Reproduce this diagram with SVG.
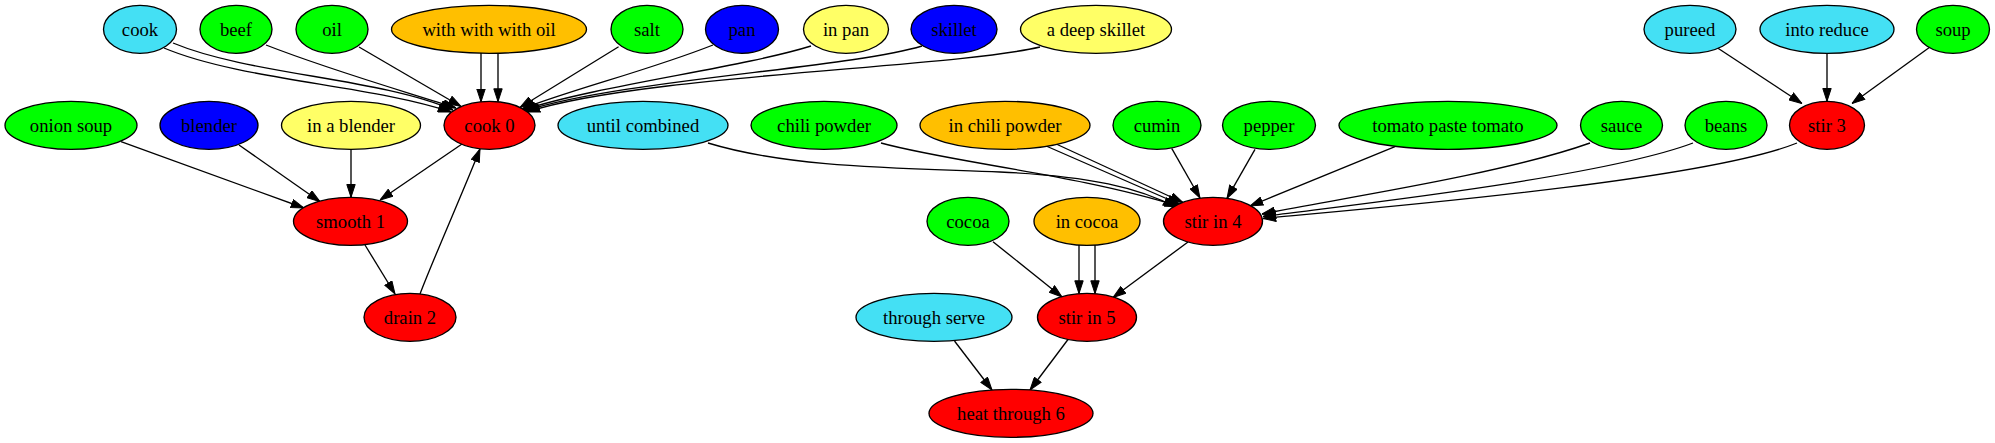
<svg xmlns="http://www.w3.org/2000/svg" width="1995" height="443" viewBox="0 0 1995 443">
<style>
.n ellipse{stroke:#000;stroke-width:1.33}
.n text{font-family:"Liberation Serif","Times New Roman",serif;font-size:18.67px;text-anchor:middle;fill:#000}
.cy{fill:#44e0f4}.gr{fill:#00ff00}.or{fill:#ffbf00}.ye{fill:#ffff66}.bl{fill:#0000ff}.rd{fill:#ff0000}
#edges path{fill:none;stroke:#000;stroke-width:1.33;marker-end:url(#ah)}
</style>
<defs>
<marker id="ah" markerUnits="userSpaceOnUse" viewBox="0 0 13.3 9.4" refX="13.3" refY="4.7" markerWidth="13.3" markerHeight="9.4" orient="auto">
<path d="M0.5,0.5 L13.3,4.7 L0.5,8.9 z" fill="#000" stroke="#000" stroke-width="1"/>
</marker>
</defs>
<rect width="1995" height="443" fill="#fff"/>
<g id="edges">
<path d="M173,43 C250,75 380,78 453,110"/>
<path d="M164,48 C240,80 370,85 451,112"/>
<path d="M266,45 C330,70 400,90 456,108"/>
<path d="M359,47 L461,106.5"/>
<path d="M481,53 L481,101.8"/>
<path d="M498,53 L498,101.6"/>
<path d="M618.6,46.7 L520,107.5"/>
<path d="M713,45 C650,70 570,90 522,109"/>
<path d="M811,46 C740,68 600,85 523,110"/>
<path d="M922,46 C850,68 620,80 525,111"/>
<path d="M1040,47 C950,68 640,75 527,112"/>
<path d="M462,144 L380,200"/>
<path d="M121,141.7 L304,208"/>
<path d="M239,145 L320,201.7"/>
<path d="M351,149.3 L351,197.3"/>
<path d="M365,245 L395,294"/>
<path d="M420,294 C432,262 466,185 480,149"/>
<path d="M1718,48.3 L1802,103.5"/>
<path d="M1827,53.3 L1827,101.3"/>
<path d="M1930,47 L1852,103.5"/>
<path d="M1171.7,148.3 L1200,198"/>
<path d="M1255,149.3 L1227,198.3"/>
<path d="M1395,146.7 L1250,206"/>
<path d="M1590,143 C1500,175 1330,200 1262,214"/>
<path d="M1693,143 C1600,178 1340,206 1263,216.5"/>
<path d="M1797,143 C1700,182 1350,210 1263,218.5"/>
<path d="M708,143 C790,168 900,168 1000,172 C1090,176 1140,188 1176,207.5"/>
<path d="M881,143 C950,162 1080,175 1178,206"/>
<path d="M1054,143 L1183,202.5"/>
<path d="M1045,145.5 L1180,204.5"/>
<path d="M1188,242 L1113,297.5"/>
<path d="M993,241.7 L1062,297"/>
<path d="M1079,245 L1079,293.6"/>
<path d="M1095,245 L1095,293.6"/>
<path d="M954.5,341 L992,390"/>
<path d="M1068,339.5 L1030,390"/>
</g>
<g id="n_cook" class="n"><ellipse class="cy" cx="140" cy="29.3" rx="36.5" ry="24"/><text x="140" y="35.5">cook</text></g>
<g id="n_beef" class="n"><ellipse class="gr" cx="236" cy="29.3" rx="36" ry="24"/><text x="236" y="35.5">beef</text></g>
<g id="n_oil" class="n"><ellipse class="gr" cx="332" cy="29.3" rx="36" ry="24"/><text x="332" y="35.5">oil</text></g>
<g id="n_withoil" class="n"><ellipse class="or" cx="489" cy="29.3" rx="97.5" ry="24"/><text x="489" y="35.5">with with with oil</text></g>
<g id="n_salt" class="n"><ellipse class="gr" cx="647" cy="29.3" rx="36" ry="24"/><text x="647" y="35.5">salt</text></g>
<g id="n_pan" class="n"><ellipse class="bl" cx="742" cy="29.3" rx="36.5" ry="24"/><text x="742" y="35.5">pan</text></g>
<g id="n_inpan" class="n"><ellipse class="ye" cx="846" cy="29.3" rx="42.5" ry="24"/><text x="846" y="35.5">in pan</text></g>
<g id="n_skillet" class="n"><ellipse class="bl" cx="954" cy="29.3" rx="43" ry="24"/><text x="954" y="35.5">skillet</text></g>
<g id="n_deepskillet" class="n"><ellipse class="ye" cx="1096" cy="29.3" rx="75.5" ry="24"/><text x="1096" y="35.5">a deep skillet</text></g>
<g id="n_pureed" class="n"><ellipse class="cy" cx="1690" cy="29.3" rx="46" ry="24"/><text x="1690" y="35.5">pureed</text></g>
<g id="n_intoreduce" class="n"><ellipse class="cy" cx="1827" cy="29.3" rx="67" ry="24"/><text x="1827" y="35.5">into reduce</text></g>
<g id="n_soup" class="n"><ellipse class="gr" cx="1953" cy="29.3" rx="36.5" ry="24"/><text x="1953" y="35.5">soup</text></g>
<g id="n_onionsoup" class="n"><ellipse class="gr" cx="71" cy="125.3" rx="66" ry="24"/><text x="71" y="131.5">onion soup</text></g>
<g id="n_blender" class="n"><ellipse class="bl" cx="209" cy="125.3" rx="49" ry="24"/><text x="209" y="131.5">blender</text></g>
<g id="n_inablender" class="n"><ellipse class="ye" cx="351" cy="125.3" rx="69.5" ry="24"/><text x="351" y="131.5">in a blender</text></g>
<g id="n_cook0" class="n"><ellipse class="rd" cx="489.5" cy="125.3" rx="45.5" ry="24"/><text x="489.5" y="131.5">cook 0</text></g>
<g id="n_untilcombined" class="n"><ellipse class="cy" cx="643" cy="125.3" rx="85" ry="24"/><text x="643" y="131.5">until combined</text></g>
<g id="n_chilipowder" class="n"><ellipse class="gr" cx="824" cy="125.3" rx="73" ry="24"/><text x="824" y="131.5">chili powder</text></g>
<g id="n_inchilipowder" class="n"><ellipse class="or" cx="1005" cy="125.3" rx="85" ry="24"/><text x="1005" y="131.5">in chili powder</text></g>
<g id="n_cumin" class="n"><ellipse class="gr" cx="1157" cy="125.3" rx="44" ry="24"/><text x="1157" y="131.5">cumin</text></g>
<g id="n_pepper" class="n"><ellipse class="gr" cx="1269" cy="125.3" rx="46.5" ry="24"/><text x="1269" y="131.5">pepper</text></g>
<g id="n_tomato" class="n"><ellipse class="gr" cx="1448" cy="125.3" rx="109" ry="24"/><text x="1448" y="131.5">tomato paste tomato</text></g>
<g id="n_sauce" class="n"><ellipse class="gr" cx="1621.5" cy="125.3" rx="41" ry="24"/><text x="1621.5" y="131.5">sauce</text></g>
<g id="n_beans" class="n"><ellipse class="gr" cx="1726" cy="125.3" rx="41" ry="24"/><text x="1726" y="131.5">beans</text></g>
<g id="n_stir3" class="n"><ellipse class="rd" cx="1827" cy="125.3" rx="37.5" ry="24"/><text x="1827" y="131.5">stir 3</text></g>
<g id="n_smooth1" class="n"><ellipse class="rd" cx="350.5" cy="221.3" rx="57" ry="24"/><text x="350.5" y="227.5">smooth 1</text></g>
<g id="n_cocoa" class="n"><ellipse class="gr" cx="968" cy="221.3" rx="41" ry="24"/><text x="968" y="227.5">cocoa</text></g>
<g id="n_incocoa" class="n"><ellipse class="or" cx="1087" cy="221.3" rx="53" ry="24"/><text x="1087" y="227.5">in cocoa</text></g>
<g id="n_stirin4" class="n"><ellipse class="rd" cx="1213" cy="221.3" rx="49.5" ry="24"/><text x="1213" y="227.5">stir in 4</text></g>
<g id="n_drain2" class="n"><ellipse class="rd" cx="410" cy="317.3" rx="46" ry="24"/><text x="410" y="323.5">drain 2</text></g>
<g id="n_throughserve" class="n"><ellipse class="cy" cx="934" cy="317.3" rx="78" ry="24"/><text x="934" y="323.5">through serve</text></g>
<g id="n_stirin5" class="n"><ellipse class="rd" cx="1087" cy="317.3" rx="49.5" ry="24"/><text x="1087" y="323.5">stir in 5</text></g>
<g id="n_heat6" class="n"><ellipse class="rd" cx="1011" cy="413.3" rx="82" ry="24"/><text x="1011" y="419.5">heat through 6</text></g>
</svg>
